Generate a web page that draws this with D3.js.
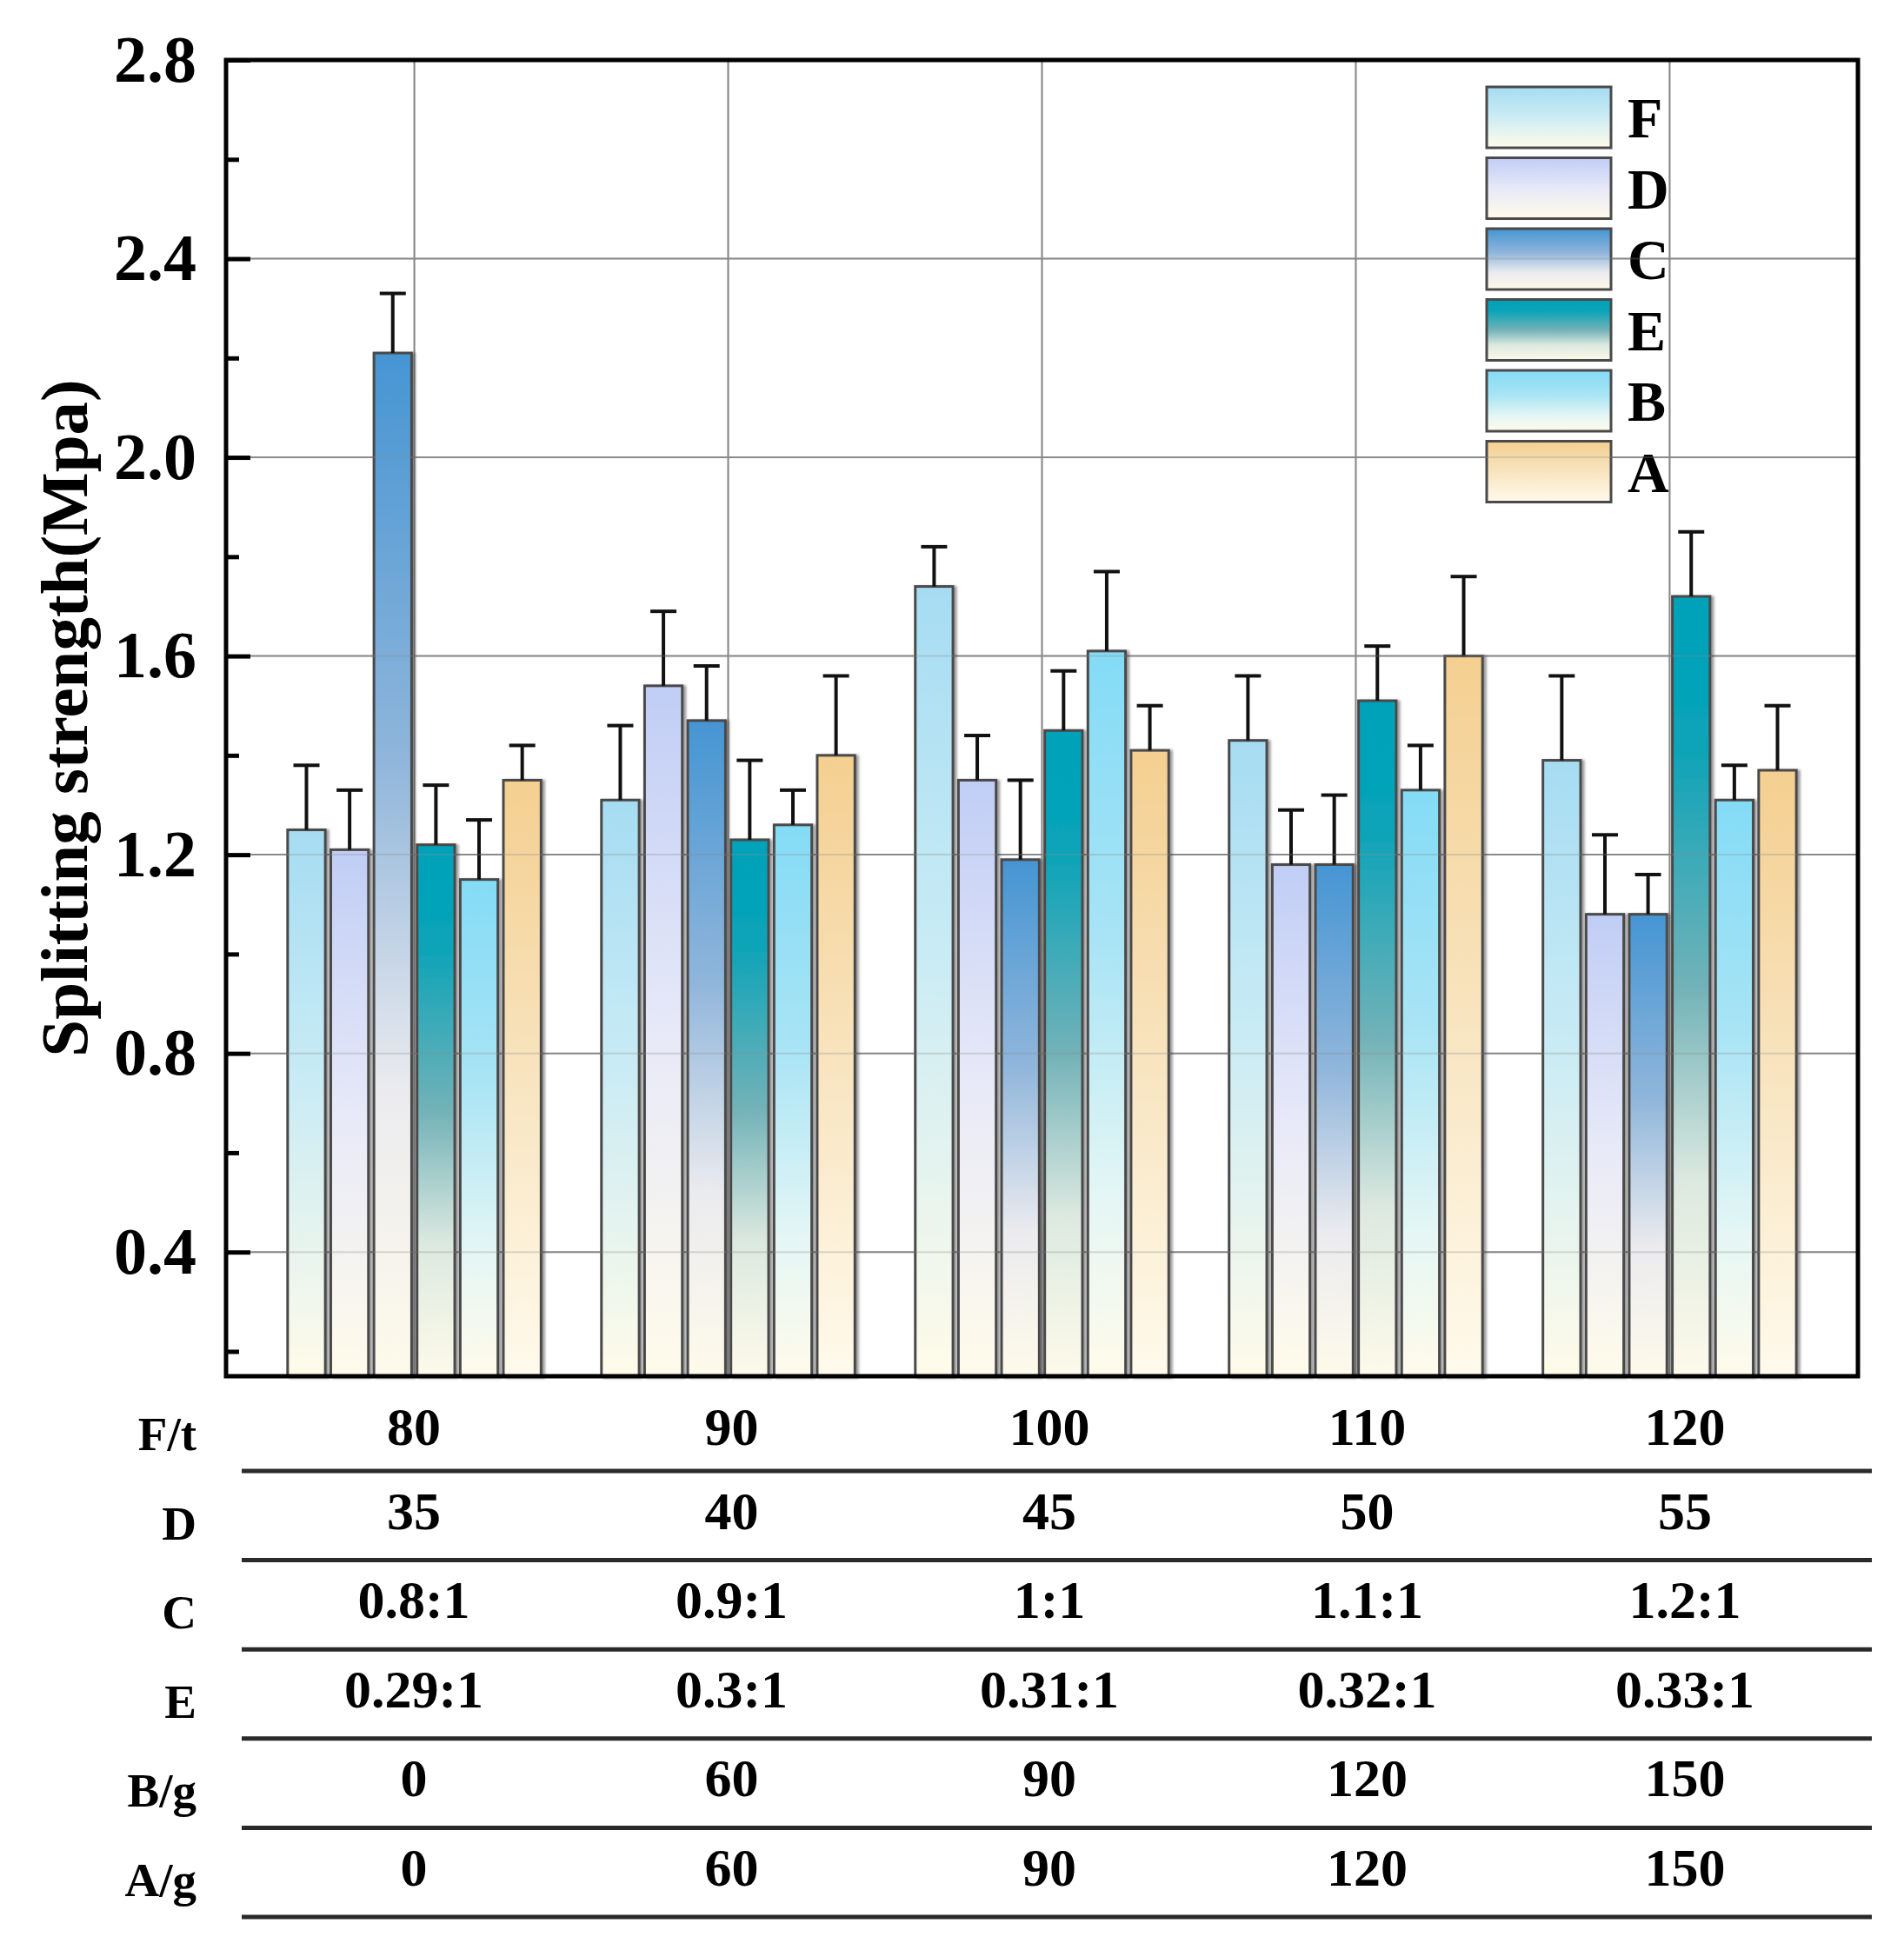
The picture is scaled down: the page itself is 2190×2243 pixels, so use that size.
<!DOCTYPE html>
<html>
<head>
<meta charset="utf-8">
<script src="https://cdn.jsdelivr.net/npm/d3@7"></script>
<style>
  html, body { margin: 0; padding: 0; background: #fff; }
  svg text { font-family: "Liberation Serif", "Times New Roman", serif; font-weight: bold; fill: #000; }
</style>
</head>
<body>
<svg id="chart" width="2190" height="2243"></svg>
<script>
// categories (F/t levels) and series
const groups = ["80", "90", "100", "110", "120"];
const seriesNames = ["F", "D", "C", "E", "B", "A"];

// mean splitting strength (MPa) per series, one value per group
const valF = [1.25, 1.31, 1.74, 1.43, 1.39];
const valD = [1.21, 1.54, 1.35, 1.18, 1.08];
const valC = [2.21, 1.47, 1.19, 1.18, 1.08];
const valE = [1.22, 1.23, 1.45, 1.51, 1.72];
const valB = [1.15, 1.26, 1.61, 1.33, 1.31];
const valA = [1.35, 1.40, 1.41, 1.60, 1.37];

// error bar (upper) size
const errF = [0.13, 0.15, 0.08, 0.13, 0.17];
const errD = [0.12, 0.15, 0.09, 0.11, 0.16];
const errC = [0.12, 0.11, 0.16, 0.14, 0.08];
const errE = [0.12, 0.16, 0.12, 0.11, 0.13];
const errB = [0.12, 0.07, 0.16, 0.09, 0.07];
const errA = [0.07, 0.16, 0.09, 0.16, 0.13];

// y ticks
const yMajorTicks = [0.4, 0.8, 1.2, 1.6, 2.0, 2.4, 2.8];
const yMinorTicks = [0.2, 0.6, 1.0, 1.4, 1.8, 2.2, 2.6];

// factor table under the chart
const tableRows = ["F/t", "D", "C", "E", "B/g", "A/g"];
const rowFt = ["80", "90", "100", "110", "120"];
const rowD = ["35", "40", "45", "50", "55"];
const rowC = ["0.8:1", "0.9:1", "1:1", "1.1:1", "1.2:1"];
const rowE = ["0.29:1", "0.3:1", "0.31:1", "0.32:1", "0.33:1"];
const rowB = ["0", "60", "90", "120", "150"];
const rowA = ["0", "60", "90", "120", "150"];

const values = [valF, valD, valC, valE, valB, valA];
const errors = [errF, errD, errC, errE, errB, errA];
const tableData = [rowFt, rowD, rowC, rowE, rowB, rowA];

// gradient stops for each series (top -> bottom)
const gradStops = [
    [[0, "#a6dcf2"], [0.45, "#c8ebf5"], [1, "#fffbe9"]],
    [[0, "#c0cdf5"], [0.5, "#e7e9f8"], [1, "#fffbea"]],
    [[0, "#4595d3"], [0.4, "#90b6db"], [0.72, "#ebebef"], [1, "#fefaea"]],
    [[0, "#00a2ba"], [0.18, "#08a3b8"], [0.5, "#72b2b8"], [0.75, "#dce9e0"], [1, "#fdfaea"]],
    [[0, "#84dbf6"], [0.4, "#a8e4f5"], [0.75, "#e4f6f5"], [1, "#fffbea"]],
    [[0, "#f4cf90"], [0.5, "#f8e4bf"], [1, "#fffaec"]]
];

const svg = d3.select("#chart");

const frame = {left: 260, right: 2137, top: 69, bottom: 1583};

const x = d3.scaleLinear().domain([0.4, 5.6]).range([frame.left, frame.right]);
const y = d3.scaleLinear().domain([0.15, 2.8]).range([frame.bottom, frame.top]);

const barStep = 0.1375;   // in x units
const barW = 0.12;

const defs = svg.append("defs");
gradStops.forEach(function (stops, i) {
    let g = defs.append("linearGradient")
        .attr("id", "grad" + i)
        .attr("x1", 0).attr("y1", 0).attr("x2", 0).attr("y2", 1);
    stops.forEach(function (s) {
        g.append("stop").attr("offset", s[0]).attr("stop-color", s[1]);
    });
});
let shadow = defs.append("filter").attr("id", "shadow")
    .attr("x", "-20%").attr("y", "-5%").attr("width", "140%").attr("height", "110%");
shadow.append("feDropShadow")
    .attr("dx", 3).attr("dy", 1).attr("stdDeviation", 1.8)
    .attr("flood-color", "#000").attr("flood-opacity", 0.4);

/* grid lines (drawn twice: under the bars, and faintly over them) */
function drawGrid(opacity) {
    let g = svg.append("g").attr("stroke-opacity", opacity);
    g.selectAll("line.h")
        .data(yMajorTicks.filter(d => d < 2.8))
        .enter().append("line")
        .attr("class", "h")
        .attr("x1", frame.left).attr("x2", frame.right)
        .attr("y1", d => y(d)).attr("y2", d => y(d))
        .attr("stroke", "#8a8a8a").attr("stroke-width", 2);
    g.selectAll("line.v")
        .data(groups)
        .enter().append("line")
        .attr("class", "v")
        .attr("x1", (d, i) => x(i + 1)).attr("x2", (d, i) => x(i + 1))
        .attr("y1", frame.top).attr("y2", frame.bottom)
        .attr("stroke", "#8a8a8a").attr("stroke-width", 2);
}
drawGrid(1);

/* bars + error bars */
const plot = svg.append("g");
seriesNames.forEach(function (name, s) {
    let data = values[s].map(function (v, i) { return {v: v, e: errors[s][i], i: i}; });
    let cx = function (d) { return x(d.i + 1 + (s - 2.5) * barStep); };
    let bw = x(barW) - x(0);

    plot.selectAll("rect.s" + s)
        .data(data)
        .enter().append("rect")
        .attr("class", "s" + s)
        .attr("x", d => cx(d) - bw / 2)
        .attr("width", bw)
        .attr("y", d => y(d.v))
        .attr("height", d => y(0.15) - y(d.v))
        .attr("fill", "url(#grad" + s + ")")
        .attr("stroke", "#4a4a4a")
        .attr("stroke-width", 3)
        .attr("filter", "url(#shadow)");

    let eb = plot.selectAll("g.e" + s)
        .data(data)
        .enter().append("g")
        .attr("class", "e" + s);
    eb.append("line")
        .attr("x1", cx).attr("x2", cx)
        .attr("y1", d => y(d.v)).attr("y2", d => y(d.v + d.e))
        .attr("stroke", "#111").attr("stroke-width", 4);
    eb.append("line")
        .attr("x1", d => cx(d) - 15).attr("x2", d => cx(d) + 15)
        .attr("y1", d => y(d.v + d.e)).attr("y2", d => y(d.v + d.e))
        .attr("stroke", "#111").attr("stroke-width", 4);
});

/* legend */
let legend = svg.append("g").attr("transform", "translate(1710,100)");
seriesNames.forEach(function (name, s) {
    let row = legend.append("g").attr("transform", "translate(0," + (s * 81.5) + ")");
    row.append("rect")
        .attr("width", 143).attr("height", 70)
        .attr("fill", "url(#grad" + s + ")")
        .attr("stroke", "#4a4a4a").attr("stroke-width", 3);
    row.append("text")
        .attr("x", 162).attr("y", 35)
        .attr("dy", "0.35em")
        .attr("font-size", 66)
        .text(name);
});

drawGrid(0.3);

/* frame */
svg.append("rect")
    .attr("x", frame.left).attr("y", frame.top)
    .attr("width", frame.right - frame.left).attr("height", frame.bottom - frame.top)
    .attr("fill", "none").attr("stroke", "#000").attr("stroke-width", 5);

/* y axis ticks */
let yAxis = d3.axisLeft(y).tickValues(yMajorTicks).tickSize(-28).tickPadding(34)
    .tickFormat(d3.format(".1f"));
let ya = svg.append("g")
    .attr("transform", "translate(" + frame.left + ",0)")
    .call(yAxis);
ya.select(".domain").remove();
ya.selectAll(".tick line").attr("stroke", "#000").attr("stroke-width", 5);
ya.selectAll(".tick text")
    .attr("font-family", "Liberation Serif, Times New Roman, serif")
    .attr("font-weight", "bold")
    .attr("font-size", 76)
    .attr("fill", "#000");

let yMinor = d3.axisLeft(y).tickValues(yMinorTicks).tickSize(-15).tickFormat("");
let ym = svg.append("g")
    .attr("transform", "translate(" + frame.left + ",0)")
    .call(yMinor);
ym.select(".domain").remove();
ym.selectAll(".tick line").attr("stroke", "#000").attr("stroke-width", 5);

/* y axis title */
svg.append("text")
    .attr("transform", "translate(100," + 826 + ") rotate(-90)")
    .attr("text-anchor", "middle")
    .attr("font-size", 77)
    .text("Splitting strength(Mpa)");

/* factor table */
const tx = d3.scaleLinear().domain([0, 4]).range([476, 1938]);
const lineY = d3.scaleLinear().domain([0, 5]).range([1692, 2205]);
let table = svg.append("g");
tableRows.forEach(function (label, r) {
    let ly = lineY(r);
    table.append("text")
        .attr("x", 226).attr("y", ly - 24)
        .attr("text-anchor", "end")
        .attr("font-size", 55)
        .text(label);
    table.selectAll("text.r" + r)
        .data(tableData[r])
        .enter().append("text")
        .attr("class", "r" + r)
        .attr("x", (d, i) => tx(i))
        .attr("y", ly - (r === 0 ? 30 : 36))
        .attr("text-anchor", "middle")
        .attr("font-size", 62)
        .text(d => d);
    table.append("line")
        .attr("x1", 278).attr("x2", 2153)
        .attr("y1", ly).attr("y2", ly)
        .attr("stroke", "#2a2a2a").attr("stroke-width", 5);
});
</script>
</body>
</html>
